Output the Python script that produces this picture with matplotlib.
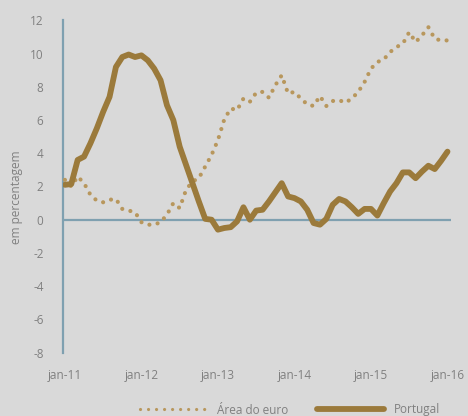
import matplotlib
matplotlib.use("Agg")
import matplotlib.pyplot as plt
from matplotlib.lines import Line2D
import numpy as np

plt.rcParams['font.family'] = ['Open Sans', 'DejaVu Sans']
plt.rcParams['axes.unicode_minus'] = False

tick_labels = ["jan-11", "jan-12", "jan-13", "jan-14", "jan-15", "jan-16"]

euro = [2.4, 2.0, 2.6, 2.2, 1.5, 1.15, 1.05, 1.2, 1.25, 0.65, 0.55, 0.45,
        -0.15, -0.3, -0.3, -0.15, 0.3, 1.0, 0.7, 1.8, 2.3, 2.5, 3.2, 3.9,
        4.8, 6.05, 6.7, 6.6, 7.3, 7.1, 7.65, 7.7, 7.35, 8.1, 8.7, 7.6,
        7.7, 7.3, 6.95, 6.85, 7.45, 6.85, 7.15, 7.2, 7.05, 7.3, 7.7, 8.3,
        9.1, 9.5, 9.65, 10.1, 10.4, 10.6, 11.3, 10.7, 11.1, 11.6, 10.9, 10.8,
        10.8]

portugal = [2.1, 2.15, 3.6, 3.8, 4.6, 5.5, 6.5, 7.4, 9.2, 9.8, 9.95, 9.8,
            9.9, 9.6, 9.1, 8.4, 6.9, 6.0, 4.4, 3.3, 2.2, 1.1, 0.05, 0.0,
            -0.6, -0.5, -0.45, -0.1, 0.75, 0.0, 0.55, 0.6, 1.1, 1.65, 2.2, 1.4,
            1.3, 1.1, 0.6, -0.2, -0.3, 0.05, 0.9, 1.25, 1.1, 0.75, 0.35, 0.65,
            0.65, 0.25, 1.0, 1.7, 2.2, 2.85, 2.85, 2.5, 2.9, 3.25, 3.05, 3.55,
            4.1]

months = np.arange(len(euro))

bg = "#d9d9d9"
c_pt = "#9b7a3b"
c_eu = "#b8975d"
c_axis = "#7fa0b0"
c_text = "#808080"

fig = plt.figure(figsize=(4.68, 4.16), dpi=100, facecolor=bg)
ax = fig.add_axes([63/468, (416-352.5)/416, (451-63)/468, (352.5-20.5)/416])
ax.set_facecolor(bg)

ax.plot(months, euro, color=c_eu, lw=3.0, linestyle=(0, (0.01, 2.0)),
        dash_capstyle='round', solid_capstyle='round', zorder=3)
ax.plot(months, portugal, color=c_pt, lw=4.2, solid_capstyle='round',
        solid_joinstyle='round', zorder=4)

ax.axhline(0, color=c_axis, lw=1.6, zorder=2)

ax.set_xlim(-0.3, 60.55)
ax.set_ylim(-8, 12)
ax.set_yticks(np.arange(-8, 13, 2))
ax.set_xticks(np.arange(0, 61, 12))
ax.set_xticklabels(tick_labels)

for s in ['top', 'right', 'bottom']:
    ax.spines[s].set_visible(False)
ax.spines['left'].set_color(c_axis)
ax.spines['left'].set_linewidth(1.6)

ax.tick_params(axis='y', length=0, pad=14, labelsize=8.5, labelcolor=c_text)
ax.tick_params(axis='x', length=0, pad=12, labelsize=8.5, labelcolor=c_text)

fig.text(17/468, 1 - 197/416, "em percentagem", rotation=90, ha='center',
         va='center', fontsize=8.5, color=c_text)

handles = [Line2D([], [], color=c_eu, lw=2.3, linestyle=(0, (0.01, 2.5)),
                  dash_capstyle='round'),
           Line2D([], [], color=c_pt, lw=4.2, solid_capstyle='round')]
fig.legend(handles, ["Área do euro", "Portugal"], loc='center',
           bbox_to_anchor=(290/468, 1 - 410/416), ncol=2, frameon=False,
           fontsize=8.5, labelcolor=c_text, handlelength=5.7,
           handletextpad=0.8, columnspacing=2.4, borderpad=0, borderaxespad=0)

fig.savefig("out.png", dpi=100, facecolor=bg)
